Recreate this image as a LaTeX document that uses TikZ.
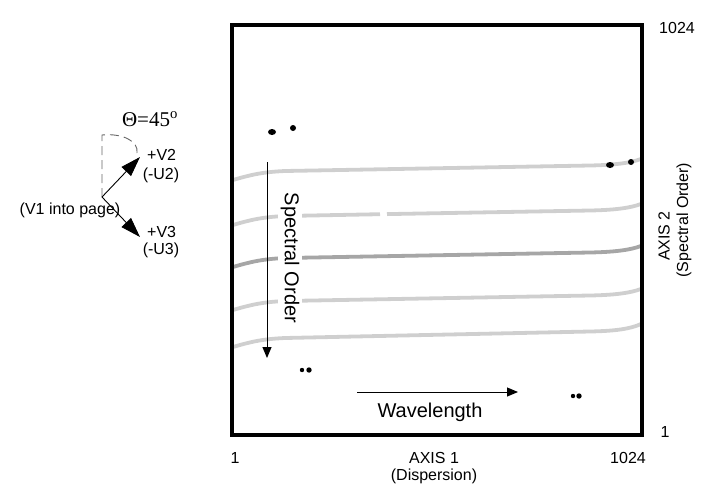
\documentclass[tikz,border=0pt]{standalone}
\usepackage{fontspec}
\setmainfont{Liberation Sans}
\newfontfamily\thetafont{Liberation Serif}
\usetikzlibrary{arrows.meta}

\begin{document}
\begin{tikzpicture}[x=1pt, y=-1pt,
    lbl/.style={font=\fontsize{16}{18}\selectfont, inner sep=1pt},
    biglbl/.style={font=\fontsize{20}{22}\selectfont},
    trace/.style={line width=3.8pt, color=black!19},
    vec/.style={-{Triangle[length=20pt,width=13pt]}, line width=0.9pt},
    dirarrow/.style={-{Triangle[length=11pt,width=9pt]}, line width=1pt}]
    \useasboundingbox (0,0) rectangle (709,490);

    % 光谱级次
    \draw[trace] (233,180) .. controls (250,175) and (262,172) .. (285,171) -- (590,165.5) .. controls (615,165) and (630,163) .. (641,159);
    \draw[trace] (233,225) .. controls (250,220) and (262,217) .. (285,216) -- (380,214.2);
    \draw[trace] (387,214.1) -- (590,210.5) .. controls (615,210) and (630,208) .. (641,204);
    \draw[trace, color=black!35] (233,267) .. controls (250,262) and (262,259) .. (285,258) -- (590,252.5) .. controls (615,252) and (630,250) .. (641,246);
    \draw[trace] (233,310) .. controls (250,305) and (262,302) .. (285,301) -- (590,295.5) .. controls (615,295) and (630,293) .. (641,289);
    \draw[trace] (233,347) .. controls (250,342) and (262,339) .. (285,338) -- (590,331.5) .. controls (615,331) and (630,329) .. (641,324);

    % 探测器框
    \node[draw, line width=3.5pt, minimum width=410pt, minimum height=410pt, inner sep=0pt] (ccd) at (437,230) {};

    % 亮点
    \fill (272,132) ellipse [x radius=4pt, y radius=3pt];
    \fill (293,128) circle [radius=3pt];
    \fill (610,165) ellipse [x radius=4pt, y radius=3pt];
    \fill (631,162) circle [radius=3pt];
    \fill (302,370) circle [radius=2.2pt];
    \fill (309,370) circle [radius=2.7pt];
    \fill (573,396) circle [radius=2.2pt];
    \fill (579,396) circle [radius=2.7pt];

    % 方向箭头
    \coordinate (so_top) at (267,162);
    \coordinate (so_bot) at (267,358);
    \draw[dirarrow] (so_top) -- (so_bot);
    \node[biglbl, rotate=-90, fill=white, inner sep=3pt] (so_label) at (290,258) {Spectral Order};

    \coordinate (wl_start) at (357,392);
    \coordinate (wl_end) at (518,392);
    \draw[dirarrow] (wl_start) -- (wl_end);
    \node[biglbl] (wl_label) at (430,412) {Wavelength};

    % 坐标轴标注
    \node[lbl] (x_min) at (235,458) {1};
    \node[lbl] (x_axis) at (434,458) {AXIS 1};
    \node[lbl] (x_desc) at (434,476) {(Dispersion)};
    \node[lbl] (x_max) at (628,458) {1024};
    \node[lbl] (y_max) at (677,28) {1024};
    \node[lbl] (y_min) at (665,432) {1};
    \node[lbl, rotate=90] (y_axis) at (664,236) {AXIS 2};
    \node[lbl, rotate=90] (y_desc) at (684,220) {(Spectral Order)};

    % 左侧坐标系
    \coordinate (orig) at (102,197);
    \coordinate (v2) at (140,157);
    \coordinate (v3) at (140,237);
    \coordinate (arc_top) at (102,135);
    \coordinate (arc_end) at (137,153);
    \draw[black!60, line width=0.9pt, dash pattern=on 9pt off 5pt] (orig) -- (arc_top)
        .. controls (122,133) and (139,141) .. (arc_end);
    \draw[vec] (orig) -- (v2);
    \draw[vec] (orig) -- (v3);

    \node[font=\thetafont\fontsize{21}{23}\selectfont] (theta) at (150,119) {Θ=45\textsuperscript{o}};
    \node[lbl, anchor=west] (v2_label) at (146,155) {+V2};
    \node[lbl] (u2_label) at (161,175) {(-U2)};
    \node[lbl] (v1_label) at (70,210) {(V1 into page)};
    \node[lbl, anchor=west] (v3_label) at (146,232) {+V3};
    \node[lbl] (u3_label) at (161,250) {(-U3)};
\end{tikzpicture}
\end{document}
